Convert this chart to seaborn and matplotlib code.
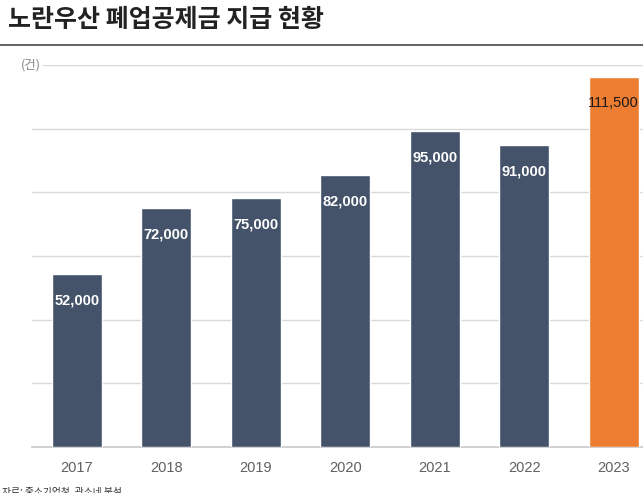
import matplotlib
matplotlib.use('Agg')
import matplotlib.pyplot as plt
import seaborn as sns
import pandas as pd
import numpy as np

# --- Datos ---
años = ['2017', '2018', '2019', '2020', '2021', '2022', '2023']
pagos = [52000, 72000, 75000, 82000, 95000, 91000, 111500]
etiquetas = ['52,000', '72,000', '75,000', '82,000', '95,000', '91,000', '111,500']
destacado = ['base'] * 6 + ['ultimo']

titulo = '노란우산 폐업공제금 지급 현황'
unidad = '(건)'
fuente = '자료: 중소기업청, 관소네 분석'

COLOR_BASE = '#44536a'
COLOR_ULTIMO = '#ed7d31'

df = pd.DataFrame({'año': años, 'pagos': pagos, 'grupo': destacado})

sns.set_theme(style='white')
plt.rcParams['font.family'] = ['Noto Sans CJK KR', 'DejaVu Sans']

fig = plt.figure(figsize=(6.43, 4.93), dpi=100)
ax = fig.add_axes([32 / 643, 46 / 493, (643 - 32) / 643, 382 / 493])

sns.barplot(data=df, x='año', y='pagos', hue='grupo',
            palette={'base': COLOR_BASE, 'ultimo': COLOR_ULTIMO},
            dodge=False, width=0.56, saturation=1, legend=False, ax=ax, zorder=3)

ax.set_ylim(0, 115000)
ax.set_xlim(-0.5, -0.5 + (643 - 32) / 89.5)
ax.set_yticks(np.linspace(0, 115000, 7))
ax.yaxis.grid(True, color='#d9d9d9', linewidth=1, zorder=0)
ax.set_yticklabels([])
ax.tick_params(axis='y', length=0)
ax.tick_params(axis='x', length=0, pad=10, labelsize=10.5, labelcolor='#606060')
for lbl in ax.get_xticklabels():
    lbl.set_family(['Liberation Sans', 'DejaVu Sans'])
ax.set_xlabel(None)
ax.set_ylabel(None)
for lado in ['top', 'right', 'left']:
    ax.spines[lado].set_visible(False)
ax.spines['bottom'].set_color('#c8c8c8')
ax.spines['bottom'].set_linewidth(1.2)

# Etiquetas de valor dentro de las barras
for i, (v, txt) in enumerate(zip(pagos, etiquetas)):
    ultimo = destacado[i] == 'ultimo'
    ax.annotate(txt, (i, v), xytext=(0, -19), textcoords='offset points',
                ha='center', va='center', fontsize=10.5,
                color='#1a1a1a' if ultimo else 'white',
                weight='normal' if ultimo else 'bold',
                family=['Liberation Sans', 'DejaVu Sans'], zorder=4)

# Unidad sobre la línea superior (tapa el inicio de la línea)
fig.text(21 / 643, 1 - 65 / 493, unidad, ha='left', va='center', fontsize=9,
         color='#888888', bbox=dict(facecolor='white', edgecolor='none', pad=1.5))

# Título y línea separadora
fig.text(8 / 643, 1 - 20 / 493, titulo, ha='left', va='center',
         fontsize=18, weight='bold', color='#222222')
fig.add_artist(plt.Line2D([0, 1], [1 - 45 / 493, 1 - 45 / 493],
                          color='#555555', linewidth=1.3, transform=fig.transFigure))

# Fuente (recortada en el borde inferior, como en el original)
fig.text(2 / 643, -4 / 493, fuente, ha='left', va='bottom', fontsize=7, color='#333333')

plt.savefig('out.png', dpi=100)
